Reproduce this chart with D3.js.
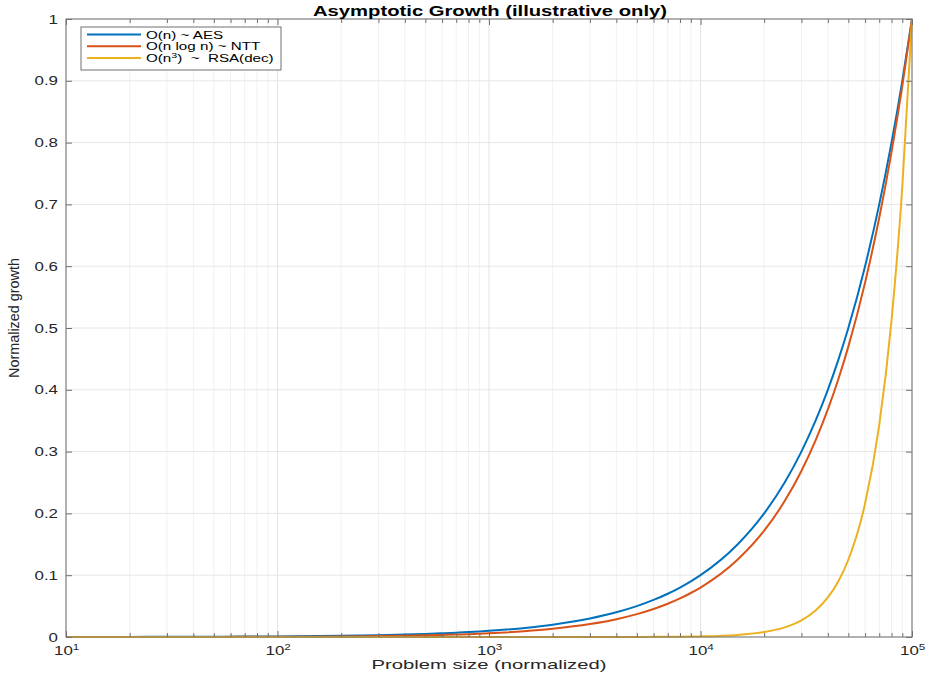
<!DOCTYPE html>
<html>
<head>
<meta charset="utf-8">
<script src="https://cdn.jsdelivr.net/npm/d3@7"></script>
<style>
  body { margin: 0; background: #fff; }
  text { font-family: "Liberation Sans", Arial, sans-serif; fill: #262626; white-space: pre; }
</style>
</head>
<body>
<div id="chart"></div>
<script>
// problem sizes sampled along the curves
var sizes = [10, 20, 30, 40, 50, 60, 70, 80, 90,
  100, 200, 300, 400, 500, 600, 700, 800, 900,
  1000, 2000, 3000, 4000, 5000, 6000, 7000, 8000, 9000,
  10000, 15000, 20000, 25000, 30000, 35000, 40000, 45000, 50000, 60000, 70000, 80000, 90000, 100000];

var linearVals = [0.0001, 0.0002, 0.0003, 0.0004, 0.0005, 0.0006, 0.0007, 0.0008, 0.0009,
  0.001, 0.002, 0.003, 0.004, 0.005, 0.006, 0.007, 0.008, 0.009,
  0.01, 0.02, 0.03, 0.04, 0.05, 0.06, 0.07, 0.08, 0.09,
  0.1, 0.15, 0.2, 0.25, 0.3, 0.35, 0.4, 0.45, 0.5, 0.6, 0.7, 0.8, 0.9, 1];

var nlognVals = [0.00002, 0.000052, 0.000089, 0.000128, 0.00017, 0.000213, 0.000258, 0.000304, 0.000352,
  0.0004, 0.00092, 0.00149, 0.00208, 0.0027, 0.00333, 0.00398, 0.00464, 0.00532,
  0.006, 0.0132, 0.0209, 0.0288, 0.037, 0.0453, 0.0538, 0.0624, 0.0712,
  0.08, 0.1253, 0.172, 0.2199, 0.2686, 0.3181, 0.3682, 0.4187, 0.4699, 0.5734, 0.6783, 0.7845, 0.8918, 1];

var cubicVals = [0, 0, 0, 0, 0, 0, 0, 0, 0,
  0, 0, 0, 0, 0, 0, 0, 0, 0,
  0.000001, 0.000008, 0.000027, 0.000064, 0.000125, 0.000216, 0.000343, 0.000512, 0.000729,
  0.001, 0.003375, 0.008, 0.015625, 0.027, 0.042875, 0.064, 0.091125, 0.125, 0.216, 0.343, 0.512, 0.729, 1];

var seriesNames = ["O(n) ~ AES", "O(n log n) ~ NTT", "O(n|3|)  ~  RSA(dec)"];
var seriesColors = ["#0072BD", "#D95319", "#EDB120"];
var yTicks = [0, 0.1, 0.2, 0.3, 0.4, 0.5, 0.6, 0.7, 0.8, 0.9, 1];
var xDecades = [1e1, 1e2, 1e3, 1e4, 1e5];
var decadeExp = ["1", "2", "3", "4", "5"];

var W = 928, H = 674;
var mLeft = 66, mRight = 912, mTop = 19, mBottom = 637;
var stretch = 1.3; // reference text is drawn wide

var svg = d3.select("#chart").append("svg")
  .attr("width", W)
  .attr("height", H);

var x = d3.scaleLog().domain([10, 1e5]).range([mLeft, mRight]);
var y = d3.scaleLinear().domain([0, 1]).range([mBottom, mTop]);

// minor x ticks (2..9 per decade)
var minor = [];
xDecades.slice(0, -1).forEach(function(d){
  for (var k = 2; k <= 9; k++) minor.push(d * k);
});

var grid = svg.append("g");
grid.selectAll("line.minor").data(minor).enter().append("line")
  .attr("x1", function(d){ return x(d); }).attr("x2", function(d){ return x(d); })
  .attr("y1", mTop).attr("y2", mBottom)
  .style("stroke", "#f1f1f1").style("stroke-width", 1);
grid.selectAll("line.mx").data(xDecades).enter().append("line")
  .attr("x1", function(d){ return x(d); }).attr("x2", function(d){ return x(d); })
  .attr("y1", mTop).attr("y2", mBottom)
  .style("stroke", "#e3e3e3").style("stroke-width", 1);
grid.selectAll("line.my").data(yTicks).enter().append("line")
  .attr("x1", mLeft).attr("x2", mRight)
  .attr("y1", function(d){ return y(d); }).attr("y2", function(d){ return y(d); })
  .style("stroke", "#e6e6e6").style("stroke-width", 1);

// curves
var allVals = [linearVals, nlognVals, cubicVals];
var line = d3.line()
  .x(function(d){ return x(d[0]); })
  .y(function(d){ return y(d[1]); })
  .curve(d3.curveMonotoneX);

allVals.forEach(function(vals, i){
  var pts = sizes.map(function(s, j){ return [s, vals[j]]; });
  svg.append("path")
    .attr("d", line(pts))
    .style("fill", "none")
    .style("stroke", seriesColors[i])
    .style("stroke-width", 2);
});

// axes box
svg.append("rect")
  .attr("x", mLeft).attr("y", mTop)
  .attr("width", mRight - mLeft).attr("height", mBottom - mTop)
  .style("fill", "none").style("stroke", "#707070").style("stroke-width", 1);

// ticks, inside, on all sides
var axB = d3.axisBottom(x).tickValues(xDecades).tickSizeInner(-6).tickSizeOuter(0).tickFormat("");
var axT = d3.axisTop(x).tickValues(xDecades).tickSizeInner(-6).tickSizeOuter(0).tickFormat("");
var axBm = d3.axisBottom(x).tickValues(minor).tickSizeInner(-4).tickSizeOuter(0).tickFormat("");
var axTm = d3.axisTop(x).tickValues(minor).tickSizeInner(-4).tickSizeOuter(0).tickFormat("");
var axL = d3.axisLeft(y).tickValues(yTicks).tickSizeInner(-6).tickSizeOuter(0).tickFormat("");
var axR = d3.axisRight(y).tickValues(yTicks).tickSizeInner(-6).tickSizeOuter(0).tickFormat("");

[[axB, "translate(0," + mBottom + ")"], [axBm, "translate(0," + mBottom + ")"],
 [axT, "translate(0," + mTop + ")"], [axTm, "translate(0," + mTop + ")"],
 [axL, "translate(" + mLeft + ",0)"], [axR, "translate(" + mRight + ",0)"]].forEach(function(a){
  var g = svg.append("g").attr("transform", a[1]).call(a[0]);
  g.select(".domain").remove();
  g.selectAll("line").style("stroke", "#707070");
});

// y tick labels
svg.selectAll("text.yl").data(yTicks).enter().append("text")
  .attr("transform", function(d){ return "translate(" + (mLeft - 8) + "," + (y(d) + 4.5) + ") scale(" + stretch + ",1)"; })
  .attr("text-anchor", "end")
  .style("font-size", "13px")
  .text(function(d){ return d3.format("")(d); });

// x tick labels 10^k
var xl = svg.selectAll("text.xl").data(xDecades).enter().append("text")
  .attr("transform", function(d){ return "translate(" + (x(d) - 12) + ",655) scale(" + stretch + ",1)"; })
  .style("font-size", "13px");
xl.append("tspan").text("10");
xl.append("tspan").attr("dy", -5).style("font-size", "9px")
  .text(function(d, i){ return decadeExp[i]; });

// title and axis labels
svg.append("text")
  .attr("x", 490).attr("y", 16)
  .attr("text-anchor", "middle")
  .attr("textLength", 354).attr("lengthAdjust", "spacingAndGlyphs")
  .style("font-size", "15px").style("font-weight", "bold").style("fill", "#000")
  .text("Asymptotic Growth (illustrative only)");

svg.append("text")
  .attr("x", 489).attr("y", 669)
  .attr("text-anchor", "middle")
  .attr("textLength", 235).attr("lengthAdjust", "spacingAndGlyphs")
  .style("font-size", "13.5px")
  .text("Problem size (normalized)");

svg.append("text")
  .attr("transform", "translate(19,318) rotate(-90)")
  .attr("text-anchor", "middle")
  .attr("textLength", 120).attr("lengthAdjust", "spacingAndGlyphs")
  .style("font-size", "14px")
  .text("Normalized growth");

// legend
var lg = svg.append("g");
lg.append("rect")
  .attr("x", 81).attr("y", 27).attr("width", 200).attr("height", 43)
  .style("fill", "#fff").style("stroke", "#707070").style("stroke-width", 1);
seriesNames.forEach(function(name, i){
  var ly = 34.5 + i * 11.8;
  lg.append("line")
    .attr("x1", 87).attr("x2", 141).attr("y1", ly).attr("y2", ly)
    .style("stroke", seriesColors[i]).style("stroke-width", 2);
  var t = lg.append("text")
    .attr("transform", "translate(146," + (ly + 4) + ") scale(1.32,1)")
    .style("font-size", "11.5px").style("fill", "#000");
  var parts = name.split("|");
  t.append("tspan").text(parts[0]);
  if (parts.length > 1) {
    t.append("tspan").attr("dy", -4).style("font-size", "8px").text(parts[1]);
    t.append("tspan").attr("dy", 4).text(parts[2]);
  }
});
</script>
</body>
</html>
